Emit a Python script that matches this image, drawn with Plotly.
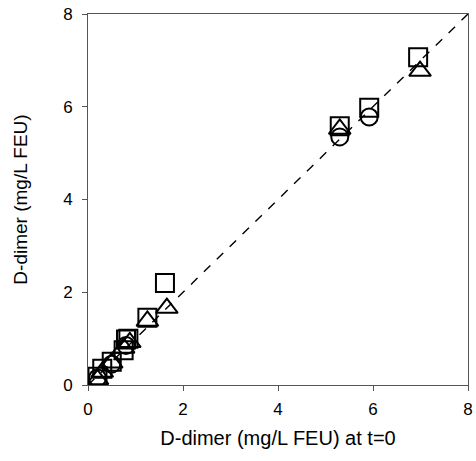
import plotly.graph_objects as go

sq_x = [0.2, 0.3, 0.5, 0.75, 0.8, 0.85, 1.25, 1.62, 5.3, 5.92, 6.95]
sq_y = [0.18, 0.35, 0.5, 0.75, 0.98, 1.0, 1.45, 2.2, 5.58, 5.98, 7.07]
ci_x = [0.2, 0.5, 0.8, 5.3, 5.92]
ci_y = [0.15, 0.45, 0.85, 5.35, 5.78]
tr_x = [0.2, 0.3, 0.5, 0.75, 0.88, 1.25, 1.66, 5.3, 6.99]
tr_y = [0.12, 0.28, 0.48, 0.8, 0.92, 1.38, 1.66, 5.52, 6.77]
line_x = [0, 8]
line_y = [0, 8]
ticks = [0, 2, 4, 6, 8]

fig = go.Figure()
fig.add_trace(go.Scatter(x=line_x, y=line_y, mode="lines",
                         line=dict(color="black", width=1.4, dash="dash"), hoverinfo="skip"))
fig.add_trace(go.Scatter(x=ci_x, y=ci_y, mode="markers",
                         marker=dict(symbol="circle-open", size=17, color="black",
                                     line=dict(color="black", width=2))))
fig.add_trace(go.Scatter(x=sq_x, y=sq_y, mode="markers",
                         marker=dict(symbol="square-open", size=18, color="black",
                                     line=dict(color="black", width=2))))
fig.add_trace(go.Scatter(x=tr_x, y=tr_y, mode="markers",
                         marker=dict(symbol="triangle-up-open", size=19, color="black",
                                     line=dict(color="black", width=2))))

axis_common = dict(range=[0, 8], tickvals=ticks, showgrid=False, zeroline=False,
                   showline=True, linecolor="#555", linewidth=1, mirror=True,
                   ticks="outside", ticklen=5, tickcolor="#555", automargin=False,
                   tickfont=dict(size=17, color="black"))
fig.update_layout(
    width=476, height=461,
    margin=dict(l=88, r=8, t=14, b=76),
    paper_bgcolor="white", plot_bgcolor="white",
    showlegend=False,
    font=dict(family="Liberation Sans, Arial, sans-serif", color="black"),
    xaxis=dict(title=dict(text="D-dimer (mg/L FEU) at t=0", font=dict(size=20), standoff=12),
               ticklabelstandoff=4, **axis_common),
    yaxis=dict(title=dict(text="D-dimer (mg/L FEU)", font=dict(size=19), standoff=30),
               ticklabelstandoff=6, **axis_common),
)
fig.write_html("out.html", config={"displayModeBar": False},
               post_script="document.body.style.margin='0';document.body.style.overflow='hidden';")
